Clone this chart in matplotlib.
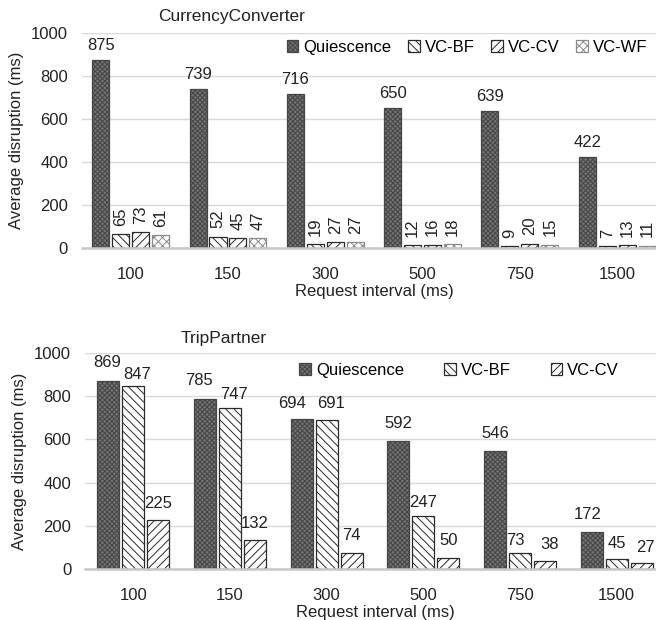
import numpy as np
import matplotlib.pyplot as plt

plt.rcParams['font.family'] = ['Liberation Sans', 'DejaVu Sans']
plt.rcParams['hatch.linewidth'] = 0.7

# data
intervals = ['100', '150', '300', '500', '750', '1500']
cc_quiescence = [875, 739, 716, 650, 639, 422]
cc_vc_bf = [65, 52, 19, 12, 9, 7]
cc_vc_cv = [73, 45, 27, 16, 20, 13]
cc_vc_wf = [61, 47, 27, 18, 15, 11]

tp_quiescence = [869, 785, 694, 592, 546, 172]
tp_vc_bf = [847, 747, 691, 247, 73, 45]
tp_vc_cv = [225, 132, 74, 50, 38, 27]

styles = {
    'Quiescence': dict(facecolor='#727272', edgecolor='#454545', hatch='xxxxxxx'),
    'VC-BF': dict(facecolor='white', edgecolor='#2a2a2a', hatch='\\\\\\\\'),
    'VC-CV': dict(facecolor='white', edgecolor='#2a2a2a', hatch='////'),
    'VC-WF': dict(facecolor='white', edgecolor='#8a8a8a', hatch='xxxx'),
}

FS = 12

fig = plt.figure(figsize=(6.56, 6.2), dpi=100)
ax1 = fig.add_axes([0.125, 0.600, 0.890, 0.347])
ax2 = fig.add_axes([0.1296, 0.0823, 0.884, 0.3484])

x = np.arange(len(intervals))


def style_axes(ax):
    ax.set_xlim(-0.5, 5.5)
    ax.set_ylim(0, 1000)
    ax.set_yticks(range(0, 1001, 200))
    ax.set_xticks(x)
    ax.set_xticklabels(intervals)
    ax.tick_params(length=0, labelsize=FS, colors='#222222', pad=14)
    ax.tick_params(axis='y', pad=10)
    for s in ['top', 'right', 'left']:
        ax.spines[s].set_visible(False)
    ax.spines['bottom'].set_color('#c8c8c8')
    ax.spines['bottom'].set_linewidth(1.8)
    ax.yaxis.grid(True, color='#d9d9d9', linewidth=1)
    ax.set_axisbelow(True)
    ax.set_xlabel('Request interval (ms)', fontsize=FS, color='#222222', labelpad=1)
    ax.set_ylabel('Average disruption (ms)', fontsize=FS, color='#222222', labelpad=5)


# top chart
style_axes(ax1)
top_series = [('Quiescence', cc_quiescence), ('VC-BF', cc_vc_bf),
              ('VC-CV', cc_vc_cv), ('VC-WF', cc_vc_wf)]
w1, step1 = 0.175, 0.205
for i, (name, vals) in enumerate(top_series):
    pos = x + (i - 1.5) * step1
    bars = ax1.bar(pos, vals, w1, label=name, linewidth=0.9, **styles[name])
    for b, v in zip(bars, vals):
        if name == 'Quiescence':
            ax1.annotate(str(v), (b.get_x() + b.get_width() / 2, v), xytext=(0, 5),
                         textcoords='offset points', ha='center', va='bottom',
                         fontsize=FS, color='#222222')
        else:
            ax1.annotate(str(v), (b.get_x() + b.get_width() / 2, v), xytext=(0, 6),
                         textcoords='offset points', ha='center', va='bottom',
                         rotation=90, fontsize=FS, color='#222222')
ax1.legend(loc='center', bbox_to_anchor=(0.712, 0.924), bbox_transform=fig.transFigure,
           ncol=4, frameon=False, fontsize=FS, handlelength=0.7, handleheight=0.7,
           handletextpad=0.3, columnspacing=1.0, borderaxespad=0)

# bottom chart
style_axes(ax2)
bot_series = [('Quiescence', tp_quiescence), ('VC-BF', tp_vc_bf), ('VC-CV', tp_vc_cv)]
w2, step2 = 0.228, 0.259
# small label nudges (points) where neighbouring labels would collide
nudge = {('Quiescence', 0): (-1, 8), ('VC-BF', 0): (3, 3),
         ('Quiescence', 1): (-4, 8), ('VC-BF', 1): (3, 4),
         ('Quiescence', 2): (-7, 6), ('VC-BF', 2): (3, 6),
         ('VC-BF', 3): (0, 4), ('VC-BF', 4): (-3, 4), ('VC-CV', 4): (3, 6),
         ('Quiescence', 5): (-3, 7), ('VC-BF', 5): (0, 6), ('VC-CV', 5): (3, 6)}
for i, (name, vals) in enumerate(bot_series):
    pos = x + (i - 1) * step2
    bars = ax2.bar(pos, vals, w2, label=name, linewidth=0.9, **styles[name])
    for j, (b, v) in enumerate(zip(bars, vals)):
        dx, dy = nudge.get((name, j), (0, 7))
        ax2.annotate(str(v), (b.get_x() + b.get_width() / 2, v), xytext=(dx, dy),
                     textcoords='offset points', ha='center', va='bottom',
                     fontsize=FS, color='#222222')
ax2.legend(loc='center', bbox_to_anchor=(0.70, 0.403), bbox_transform=fig.transFigure,
           ncol=3, frameon=False, fontsize=FS, handlelength=0.7, handleheight=0.7,
           handletextpad=0.3, columnspacing=2.4, borderaxespad=0)

fig.text(232 / 656, 1 - 17 / 620, 'CurrencyConverter', ha='center', va='center',
         fontsize=12.5, color='#222222')
fig.text(224 / 656, 1 - 338 / 620, 'TripPartner', ha='center', va='center',
         fontsize=12.5, color='#222222')

fig.savefig('out.png', dpi=100)
